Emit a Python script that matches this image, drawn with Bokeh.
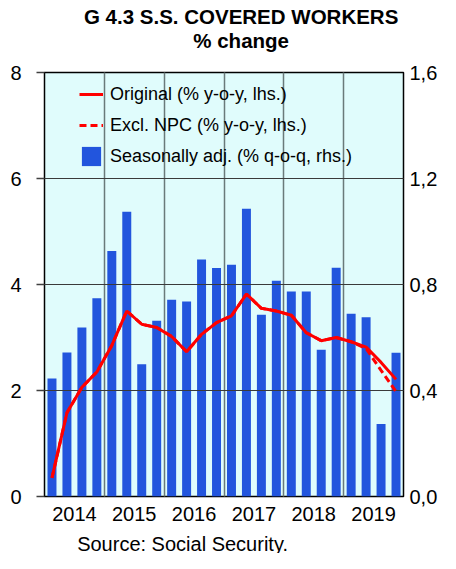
from bokeh.plotting import figure
from bokeh.layouts import column
from bokeh.models import (Range1d, LinearAxis, FixedTicker, Legend, LegendItem,
                          ColumnDataSource)
from bokeh.core.properties import value
from bokeh.embed import file_html
from bokeh.resources import INLINE

# ---- data ----
quarters = ["2014Q1", "2014Q2", "2014Q3", "2014Q4",
            "2015Q1", "2015Q2", "2015Q3", "2015Q4",
            "2016Q1", "2016Q2", "2016Q3", "2016Q4",
            "2017Q1", "2017Q2", "2017Q3", "2017Q4",
            "2018Q1", "2018Q2", "2018Q3", "2018Q4",
            "2019Q1", "2019Q2", "2019Q3", "2019Q4"]
years = ["2014", "2015", "2016", "2017", "2018", "2019"]

original = [0.35, 1.58, 2.06, 2.35, 2.85, 3.50, 3.25, 3.19, 3.02, 2.73, 3.06, 3.28,
            3.41, 3.82, 3.55, 3.50, 3.42, 3.09, 2.94, 3.00, 2.92, 2.82, 2.53, 2.21]
excl_npc = [0.35, 1.58, 2.06, 2.35, 2.85, 3.50, 3.25, 3.19, 3.02, 2.73, 3.06, 3.28,
            3.41, 3.82, 3.55, 3.50, 3.42, 3.09, 2.94, 3.00, 2.92, 2.79, 2.38, 1.98]
seasonal_adj = [0.445, 0.543, 0.638, 0.748, 0.926, 1.075, 0.499, 0.663, 0.742, 0.736,
                0.894, 0.862, 0.875, 1.086, 0.686, 0.814, 0.774, 0.774, 0.554, 0.863,
                0.690, 0.676, 0.274, 0.542]

lhs_ticks = [0, 2, 4, 6, 8]
rhs_ticks = [0, 0.4, 0.8, 1.2, 1.6]
rhs_labels = ["0,0", "0,4", "0,8", "1,2", "1,6"]

title_lines = ["G 4.3 S.S. COVERED WORKERS", "% change"]
source_note = "Source: Social Security."
legend_labels = ["Original (% y-o-y, lhs.)", "Excl. NPC (% y-o-y, lhs.)",
                 "Seasonally adj. (% q-o-q, rhs.)"]

# ---- derived positions ----
xpos = [i + 1 for i in range(len(quarters))]
year_pos = [4 * i + 2.5 for i in range(len(years))]
year_bounds = [4 * i + 0.5 for i in range(1, len(years))]

src = ColumnDataSource(dict(x=xpos, q=quarters, orig=original, excl=excl_npc, sa=seasonal_adj))

FONT = "Liberation Sans"
BLUE = "#2255DD"
RED = "#FF0000"
W = 440
TITLE_H = 56
MAIN_H = 473
SRC_H = 553 - TITLE_H - MAIN_H


def text_strip(height):
    f = figure(width=W, height=height, output_backend="svg", toolbar_location=None,
               title=None, x_range=Range1d(0, W), y_range=Range1d(height, 0),
               x_axis_type=None, y_axis_type=None, min_border=0,
               outline_line_color=None, background_fill_color="white",
               border_fill_color="white")
    f.grid.visible = False
    return f


# ---- title strip ----
t = text_strip(TITLE_H)
t.text(x=[241, 241], y=[16, 40], text=title_lines, text_align="center",
       text_baseline="alphabetic", text_font=value(FONT), text_font_style="bold",
       text_font_size=value("20.5px"), text_color="black")

# ---- main chart ----
p = figure(width=W, height=MAIN_H, output_backend="svg", toolbar_location=None,
           x_range=Range1d(0.5, 24.5), y_range=Range1d(0, 8),
           min_border_left=44, min_border_right=34, min_border_top=16, min_border_bottom=33,
           background_fill_color="#E0FCFC", border_fill_color="white",
           outline_line_color="black", outline_line_width=1.5)
p.extra_y_ranges = {"rhs": Range1d(0, 1.6)}

bars = p.vbar(x="x", top="sa", width=0.6, source=src, y_range_name="rhs",
              fill_color=BLUE, line_color=None)
dash_r = p.line(x="x", y="excl", source=src, line_color=RED, line_width=3,
                line_dash="7 4", level="annotation")
solid_r = p.line(x="x", y="orig", source=src, line_color=RED, line_width=3,
                 level="annotation")

# grids
p.ygrid.ticker = FixedTicker(ticks=lhs_ticks[1:-1])
p.ygrid.grid_line_color = "#3a3a3a"
p.ygrid.grid_line_width = 1
p.ygrid.level = "guide"
p.xgrid.ticker = FixedTicker(ticks=year_bounds)
p.xgrid.grid_line_color = "#6a7a7a"
p.xgrid.grid_line_width = 1.5
p.xgrid.level = "guide"

# x axis
xa = p.xaxis[0]
xa.ticker = FixedTicker(ticks=year_pos)
xa.major_label_overrides = {pos: lab for pos, lab in zip(year_pos, years)}
xa.major_tick_out = 0
xa.major_tick_in = 0
xa.major_tick_line_color = None
xa.minor_tick_line_color = None
xa.axis_line_color = None
xa.major_label_standoff = 10
xa.major_label_text_font = FONT
xa.major_label_text_font_size = "20px"
xa.major_label_text_color = "black"

# left axis
ya = p.yaxis[0]
ya.ticker = FixedTicker(ticks=lhs_ticks)
ya.major_tick_out = 8
ya.major_tick_in = 0
ya.major_tick_line_color = "#404040"
ya.major_tick_line_width = 1.5
ya.minor_tick_line_color = None
ya.axis_line_color = None
ya.major_label_standoff = 15
ya.major_label_text_font = FONT
ya.major_label_text_font_size = "20px"
ya.major_label_text_color = "black"

# right axis
ra = LinearAxis(y_range_name="rhs", ticker=FixedTicker(ticks=rhs_ticks),
                major_label_overrides={tk: lb for tk, lb in zip(rhs_ticks, rhs_labels)},
                major_tick_out=0, major_tick_in=0, major_tick_line_color=None,
                minor_tick_line_color=None, axis_line_color=None,
                major_label_standoff=6, major_label_text_font=FONT,
                major_label_text_font_size="20px", major_label_text_color="black")
p.add_layout(ra, "right")

# legend
legend = Legend(items=[LegendItem(label=legend_labels[0], renderers=[solid_r]),
                       LegendItem(label=legend_labels[1], renderers=[dash_r]),
                       LegendItem(label=legend_labels[2], renderers=[bars])],
                location=(35, 328), padding=0, margin=0, spacing=7,
                glyph_width=24, glyph_height=24, label_height=24, label_standoff=7,
                label_text_font=FONT, label_text_font_size="18px", label_text_color="black",
                background_fill_alpha=0, border_line_alpha=0)
p.add_layout(legend)

# ---- source strip ----
s = text_strip(SRC_H)
s.text(x=[40], y=[14], text=[source_note], text_align="left",
       text_baseline="alphabetic", text_font=value(FONT),
       text_font_size=value("20px"), text_color="black")

layout = column(t, p, s, spacing=0)
open("out.html", "w").write(file_html(layout, INLINE))
